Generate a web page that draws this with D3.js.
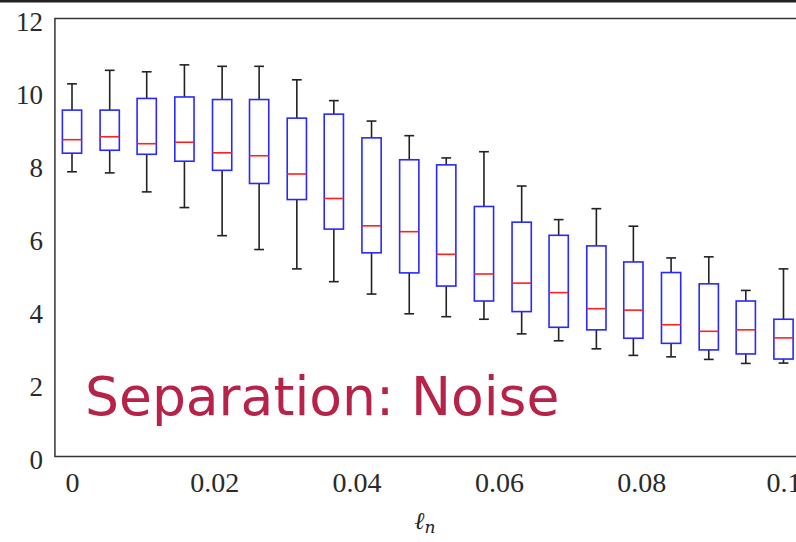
<!DOCTYPE html>
<html>
<head>
<meta charset="utf-8">
<script src="https://cdn.jsdelivr.net/npm/d3@7"></script>
<style>
  html, body { margin: 0; padding: 0; background: #fff; }
  svg { display: block; }
</style>
</head>
<body>
<div class="chart-container"></div>
<script>
// noise length scale per box
const lnValues = [0, 0.0053, 0.0105, 0.0158, 0.0211, 0.0263, 0.0316, 0.0368, 0.0421, 0.0474,
  0.0526, 0.0579, 0.0632, 0.0684, 0.0737, 0.0789, 0.0842, 0.0895, 0.0947, 0.1];

const whiskerHigh = [10.21, 10.58, 10.54, 10.73, 10.69, 10.69, 10.32, 9.75, 9.19, 8.79,
  8.18, 8.35, 7.41, 6.49, 6.79, 6.31, 5.44, 5.47, 4.55, 5.14];
const upperQuartile = [9.49, 9.49, 9.81, 9.85, 9.78, 9.78, 9.27, 9.38, 8.73, 8.13,
  7.99, 6.85, 6.42, 6.06, 5.77, 5.33, 5.04, 4.73, 4.26, 3.76];
const medians = [8.68, 8.76, 8.57, 8.61, 8.32, 8.24, 7.74, 7.07, 6.32, 6.16,
  5.54, 5.00, 4.75, 4.49, 4.05, 4.01, 3.61, 3.43, 3.47, 3.25];
const lowerQuartile = [8.31, 8.39, 8.28, 8.09, 7.84, 7.48, 7.04, 6.23, 5.58, 5.03,
  4.67, 4.26, 3.97, 3.54, 3.47, 3.24, 3.10, 2.92, 2.81, 2.67];
const whiskerLow = [7.80, 7.77, 7.25, 6.82, 6.05, 5.67, 5.14, 4.79, 4.45, 3.91,
  3.83, 3.76, 3.36, 3.17, 2.95, 2.77, 2.73, 2.66, 2.55, 2.56];

const xTicks = [0, 0.02, 0.04, 0.06, 0.08, 0.1];
const xTickLabels = ["0", "0.02", "0.04", "0.06", "0.08", "0.1"];
const yTicks = [0, 2, 4, 6, 8, 10, 12];

const width = 796;
const height = 542;

const svg = d3.select(".chart-container").append("svg")
  .attr("width", width)
  .attr("height", height);

// thin dark strip along the top edge
svg.append("rect")
  .attr("x", 0).attr("y", 0)
  .attr("width", width).attr("height", 2.5)
  .attr("fill", "#222");

const x = d3.scaleLinear().domain([0, 0.1]).range([72, 783.5]);
const y = d3.scaleLinear().domain([0, 12]).range([456.5, 18.5]);

const left = x(-0.0024);
const right = x(0.104);

// frame (right side runs off the page)
svg.append("path")
  .attr("d", `M${right},${y(12)} H${left} V${y(0)} H${right}`)
  .attr("fill", "none")
  .attr("stroke", "#333")
  .attr("stroke-width", 1.5);

// axes, labels only
const yAxis = svg.append("g")
  .attr("transform", `translate(${left},0)`)
  .call(d3.axisLeft(y).tickValues(yTicks).tickSize(0).tickPadding(12));
yAxis.select(".domain").remove();
yAxis.selectAll("text")
  .attr("y", 2)
  .attr("dy", "0.36em")
  .attr("font-family", "'Liberation Serif', 'Times New Roman', serif")
  .attr("font-size", 27)
  .attr("fill", "#2a2a2a");

const xAxis = svg.append("g")
  .attr("transform", `translate(0,${y(0)})`)
  .call(d3.axisBottom(x).tickValues(xTicks).tickFormat((d, i) => xTickLabels[i]).tickSize(0).tickPadding(16));
xAxis.select(".domain").remove();
xAxis.selectAll("text")
  .attr("dy", "0.71em")
  .attr("font-family", "'Liberation Serif', 'Times New Roman', serif")
  .attr("font-size", 28)
  .attr("fill", "#2a2a2a");

// box plot
const boxes = lnValues.map((v, i) => ({
  ln: v,
  hi: whiskerHigh[i],
  q3: upperQuartile[i],
  med: medians[i],
  q1: lowerQuartile[i],
  lo: whiskerLow[i]
}));

const step = x(lnValues[1]) - x(lnValues[0]);
const boxW = step * 0.51;
const capW = step * 0.26;

const boxGroup = svg.append("g").attr("class", "boxes");

const box = boxGroup.selectAll(".box")
  .data(boxes)
  .enter()
  .append("g")
  .attr("class", "box")
  .attr("transform", d => `translate(${x(d.ln)},0)`);

// whiskers
box.append("line")
  .attr("x1", 0).attr("x2", 0)
  .attr("y1", d => y(d.q3)).attr("y2", d => y(d.hi))
  .attr("stroke", "#222").attr("stroke-width", 1.6);
box.append("line")
  .attr("x1", 0).attr("x2", 0)
  .attr("y1", d => y(d.q1)).attr("y2", d => y(d.lo))
  .attr("stroke", "#222").attr("stroke-width", 1.6);
box.append("line")
  .attr("x1", -capW / 2).attr("x2", capW / 2)
  .attr("y1", d => y(d.hi)).attr("y2", d => y(d.hi))
  .attr("stroke", "#222").attr("stroke-width", 1.6);
box.append("line")
  .attr("x1", -capW / 2).attr("x2", capW / 2)
  .attr("y1", d => y(d.lo)).attr("y2", d => y(d.lo))
  .attr("stroke", "#222").attr("stroke-width", 1.6);

box.append("rect")
  .attr("x", -boxW / 2)
  .attr("width", boxW)
  .attr("y", d => y(d.q3))
  .attr("height", d => y(d.q1) - y(d.q3))
  .attr("fill", "none")
  .attr("stroke", "#2828ff")
  .attr("stroke-width", 1.6);

box.append("line")
  .attr("x1", -boxW / 2).attr("x2", boxW / 2)
  .attr("y1", d => y(d.med)).attr("y2", d => y(d.med))
  .attr("stroke", "#ff2020").attr("stroke-width", 1.6);

// x axis label
const xLabel = svg.append("text")
  .attr("x", 425)
  .attr("y", 529)
  .attr("text-anchor", "middle")
  .attr("font-family", "'DejaVu Serif', serif")
  .attr("font-style", "italic")
  .attr("font-size", 24)
  .attr("fill", "#222");
xLabel.append("tspan").text("ℓ");
xLabel.append("tspan").attr("dy", 4).attr("font-size", 17).text("n");

// overlay caption
svg.append("text")
  .attr("x", 85)
  .attr("y", 415)
  .attr("font-family", "'DejaVu Sans', sans-serif")
  .attr("font-size", 53.5)
  .attr("fill", "#b72348")
  .text("Separation: Noise");
</script>
</body>
</html>
